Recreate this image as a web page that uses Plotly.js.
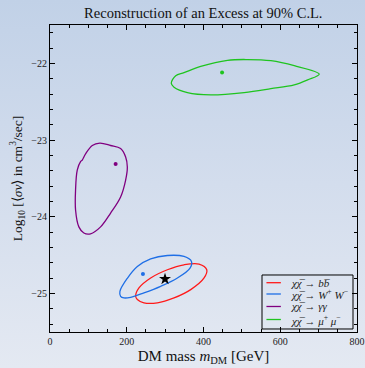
<!DOCTYPE html>
<html><head><meta charset="utf-8">
<script src="https://cdn.plot.ly/plotly-3.0.1.min.js"></script>
<style>
html,body{margin:0;padding:0;}
body{width:365px;height:368px;background:linear-gradient(to bottom,#c1d1e7 0%,#d3dded 50%,#e4e9f2 100%);}
#chart{width:365px;height:368px;}
</style></head>
<body><div id="chart"></div>
<script>
// b-bbar contour (red)
const bbX = [223.2,231.8,262.3,305.9,349.3,388.4,408.5,401.5,366.7,323.2,279.8,244.8,227.6,223.2];
const bbY = [-25.035,-24.926,-24.796,-24.689,-24.624,-24.615,-24.689,-24.796,-24.948,-25.056,-25.12,-25.12,-25.077,-25.035];
// W+W- contour (blue)
const wwX = [184,182.2,201.5,227.6,262.3,305.9,349.3,368.6,364.9,332,288.4,244.8,210.1,192.6,184];
const wwY = [-25.035,-24.97,-24.80,-24.646,-24.546,-24.503,-24.516,-24.58,-24.667,-24.796,-24.905,-24.99,-25.048,-25.056,-25.035];
// gamma gamma contour (purple)
const ggX = [130,157.9,184,197.1,201.5,197.1,184,157.9,131.8,105.7,88.2,75.2,66.6,66.6,71,79.6,84,92.7,110.2,130];
const ggY = [-23.04,-23.07,-23.11,-23.22,-23.35,-23.52,-23.74,-23.95,-24.13,-24.22,-24.21,-24.13,-23.91,-23.65,-23.39,-23.28,-23.26,-23.18,-23.07,-23.04];
// mu+mu- contour (green)
const mmX = [316,327.6,349.3,392.8,462.5,514.7,575.6,636.4,701.6,671.4,636.4,575.6,505.9,419,358.1,323.2,316];
const mmY = [-22.26,-22.16,-22.12,-22.04,-21.96,-21.95,-21.965,-22.03,-22.14,-22.215,-22.28,-22.33,-22.38,-22.41,-22.38,-22.31,-22.26];
// best-fit points
const bestX = [242.2, 171, 448.4];
const bestY = [-24.744, -23.31, -22.12];
const bestColors = ['#1f6fe6', '#800080', '#1fc41f'];
// true value (star)
const trueX = [299.7];
const trueY = [-24.81];
const names = ['<i>χχ̅</i> → <i>b</i><i>b̅</i>', '<i>χχ̅</i> → <i>W</i><sup>+</sup> <i>W</i><sup>−</sup>', '<i>χχ̅</i> → <i>γγ</i>', '<i>χχ̅</i> → <i>μ</i><sup>+</sup> <i>μ</i><sup>−</sup>'];
const colors = ['#ff1a1a', '#1f6fe6', '#800080', '#1fc41f'];

const contours = [[bbX,bbY],[wwX,wwY],[ggX,ggY],[mmX,mmY]];
const traces = contours.map((c,i)=>({
  x:c[0], y:c[1], type:'scatter', mode:'lines', name:names[i], showlegend:false,
  line:{color:colors[i], width:1.3, shape:'spline', smoothing:1}
}));
traces.push({x:bestX, y:bestY, type:'scatter', mode:'markers', showlegend:false,
  marker:{color:bestColors, size:4}});
traces.push({x:trueX, y:trueY, type:'scatter', mode:'markers', showlegend:false,
  marker:{color:'#000', size:9, symbol:'star'}});

// legend drawn in paper coordinates
const legRowY = [0.1606, 0.1238, 0.0831, 0.0407];
const shapes = [{type:'rect', xref:'paper', yref:'paper', x0:0.6906, x1:0.987, y0:0.0098, y1:0.1857,
  line:{color:'#000', width:1}, fillcolor:'rgba(0,0,0,0)'}];
const annotations = [];
names.forEach((n,i)=>{
  shapes.push({type:'line', xref:'paper', yref:'paper', x0:0.705, x1:0.752, y0:legRowY[i], y1:legRowY[i],
    line:{color:colors[i], width:1.3}});
  annotations.push({xref:'paper', yref:'paper', x:0.78, y:legRowY[i], xanchor:'left', yanchor:'middle',
    showarrow:false, text:n, font:{family:'Liberation Serif', size:11, color:'#222'}});
});

const axisCommon = {
  showgrid:false, zeroline:false, showline:true, linecolor:'#000', linewidth:1,
  mirror:'allticks', ticks:'inside', ticklen:5, tickcolor:'#000',
  tickfont:{family:'Liberation Serif', size:10, color:'#222'}
};
const layout = {
  width:365, height:368,
  paper_bgcolor:'rgba(0,0,0,0)', plot_bgcolor:'rgba(0,0,0,0)',
  margin:{l:50, r:8, t:25, b:36},
  title:{text:'Reconstruction of an Excess at 90% C.L.', x:0.557, xanchor:'center', y:0.964, yanchor:'middle',
    font:{family:'Liberation Serif', size:14.5, color:'#111'}},
  xaxis:Object.assign({}, axisCommon, {range:[0,800], tickvals:[0,200,400,600,800],
    minor:{dtick:50, ticks:'inside', ticklen:3, tickcolor:'#000'},
    title:{text:'DM mass <i>m</i><sub>DM</sub> [GeV]', standoff:4, font:{family:'Liberation Serif', size:15, color:'#111'}}}),
  yaxis:Object.assign({}, axisCommon, {range:[-25.5,-21.5], tickvals:[-25,-24,-23,-22],
    ticktext:['−25','−24','−23','−22'],
    minor:{dtick:0.2, tick0:0, ticks:'inside', ticklen:3, tickcolor:'#000'},
    title:{text:'Log<sub>10</sub> [⟨<i>σv</i>⟩ in cm<sup>3</sup>/sec]', standoff:5, font:{family:'Liberation Serif', size:13.5, color:'#111'}}}),
  showlegend:false,
  shapes:shapes, annotations:annotations
};
Plotly.newPlot('chart', traces, layout, {displayModeBar:false, staticPlot:true});
</script></body></html>
